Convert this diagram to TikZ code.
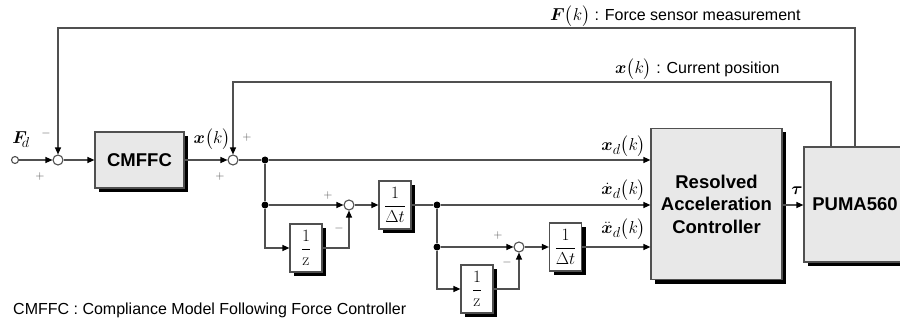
\documentclass[tikz,border=0pt]{standalone}
\usepackage{amsmath,bm}
\usepackage[no-math]{fontspec}
\setmainfont{Liberation Sans}
\usetikzlibrary{arrows.meta,shadows,calc}
\definecolor{linec}{RGB}{80,80,80}
\definecolor{boxfill}{RGB}{232,232,232}
\tikzset{
  wire/.style={draw=linec, line width=1.2pt},
  arr/.style={wire, -{Triangle[length=7pt,width=6pt,color=black]}},
  blk/.style={draw=linec, fill=boxfill, line width=1.2pt, inner sep=0pt,
    drop shadow={shadow xshift=4pt, shadow yshift=-4pt, fill=black, opacity=1}},
  frac/.style={draw=linec, fill=white, line width=1.2pt, inner sep=0pt,
    minimum width=32pt, minimum height=48pt, font=\fontsize{16}{18}\selectfont,
    drop shadow={shadow xshift=4pt, shadow yshift=-4pt, fill=black, opacity=1}},
  sumnode/.style={circle, draw=linec, fill=white, line width=1.1pt, minimum size=10pt, inner sep=0pt},
  port/.style={circle, draw=linec, fill=white, line width=1.1pt, minimum size=7pt, inner sep=0pt},
  jdot/.style={circle, fill=black, minimum size=7pt, inner sep=0pt},
  sgn/.style={font=\fontsize{12}{12}\selectfont, text=linec, inner sep=0pt},
  lbl/.style={font=\fontsize{16}{18}\selectfont, inner sep=0pt},
  bigtxt/.style={font=\fontsize{18.5}{22.5}\selectfont\bfseries, align=center},
  mlbl/.style={font=\fontsize{19}{21}\selectfont, inner sep=0pt},
}
\begin{document}
\begin{tikzpicture}[x=1pt, y=-1pt]
\useasboundingbox (0,0) rectangle (900,326);

% blocks
\node[blk, minimum width=89pt, minimum height=56pt, bigtxt] (cmffc) at (139.5,160) {CMFFC};
\node[frac] (z1) at (306,248) {$\dfrac{1}{\mathrm{z}}$};
\node[frac] (dt1) at (395,205) {$\dfrac{1}{\Delta t}$};
\node[frac] (z2) at (477,289) {$\dfrac{1}{\mathrm{z}}$};
\node[frac] (dt2) at (565.5,247) {$\dfrac{1}{\Delta t}$};
\node[blk, minimum width=131pt, minimum height=151pt, bigtxt] (rac) at (716.5,204)
  {Resolved\\Acceleration\\Controller};
\node[blk, minimum width=102pt, minimum height=115pt, bigtxt] (puma) at (855,204.5) {PUMA560};

% summing points, ports and junctions
\node[port] (in) at (15,160) {};
\node[sumnode] (s1) at (58,160) {};
\node[sumnode] (s2) at (233,160) {};
\node[sumnode] (s3) at (349,205) {};
\node[sumnode] (s4) at (519,247) {};
\node[jdot] (d1) at (265,160) {};
\node[jdot] (d2) at (265,205) {};
\node[jdot] (d3) at (437,205) {};
\node[jdot] (d4) at (437,247) {};
\coordinate (Ftop) at (855,28);
\coordinate (Xtop) at (831,82);

% forward path
\draw[arr] (in) -- (s1);
\draw[arr] (s1) -- (cmffc);
\draw[arr] (cmffc) -- (s2);
\draw[wire] (s2) -- (d1);
\draw[arr] (d1) -- (d1 -| rac.west);
\draw[wire] (d1) -- (d2);
\draw[arr] (d2) -- (s3);
\draw[arr] (d2) |- (z1.west);
\draw[arr] (z1.east) -| (s3.south);
\draw[arr] (s3) -- (dt1);
\draw[wire] (dt1) -- (d3);
\draw[arr] (d3) -- (d3 -| rac.west);
\draw[wire] (d3) -- (d4);
\draw[arr] (d4) -- (s4);
\draw[arr] (d4) |- (z2.west);
\draw[arr] (z2.east) -| (s4.south);
\draw[arr] (s4) -- (dt2);
\draw[arr] (dt2) -- (dt2 -| rac.west);
\draw[arr] (rac.east |- d3) -- (puma.west |- d3);

% feedback paths
\draw[arr] (puma.north -| Ftop) -- (Ftop) -| (s1.north);
\draw[arr] (puma.north -| Xtop) -- (Xtop) -| (s2.north);

% signs
\node[sgn] (m1) at (46,134) {$-$};
\node[sgn] (p1) at (40,176) {$+$};
\node[sgn] (p2) at (247,138) {$+$};
\node[sgn] (p3) at (220,177) {$+$};
\node[sgn] (p4) at (328,195) {$+$};
\node[sgn] (m2) at (339,228) {$-$};
\node[sgn] (p5) at (498,235) {$+$};
\node[sgn] (m3) at (507,262) {$-$};

% signal labels
\node[mlbl] (fd) at (21,140) {$\bm{F}_{\!d}$};
\node[mlbl] (xk) at (212,139) {$\bm{x}\bigl(k\bigr)$};
\node[mlbl, anchor=east] (xd) at (646,146) {$\bm{x}_{d}\bigl(k\bigr)$};
\node[mlbl, anchor=east] (xdd) at (646,190) {$\dot{\bm{x}}_{d}\bigl(k\bigr)$};
\node[mlbl, anchor=east] (xddd) at (646,229) {$\ddot{\bm{x}}_{d}\bigl(k\bigr)$};
\node[mlbl] (tau) at (797,191) {$\bm{\tau}$};
\node[lbl, anchor=west] (fklbl) at (550,16) {$\bm{F}\bigl(k\bigr)$ : Force sensor measurement};
\node[lbl, anchor=west] (xklbl) at (615,69) {$\bm{x}\bigl(k\bigr)$ : Current position};
\node[lbl, anchor=west] (note) at (13,310) {CMFFC : Compliance Model Following Force Controller};
\end{tikzpicture}
\end{document}
